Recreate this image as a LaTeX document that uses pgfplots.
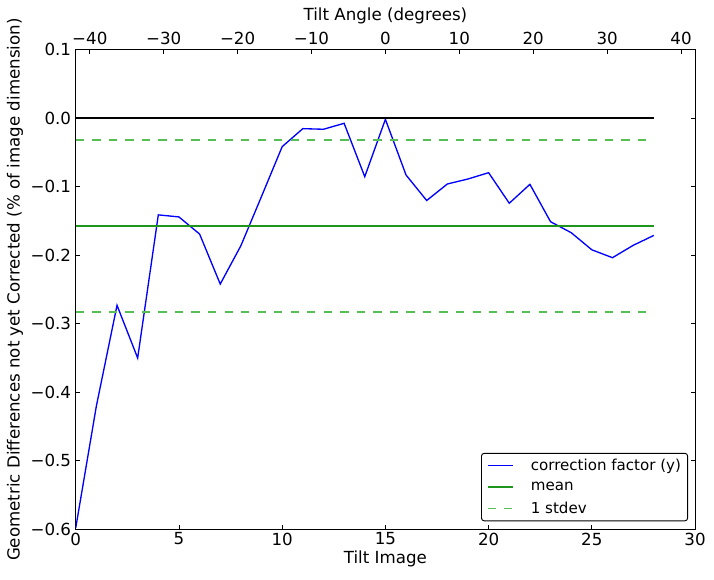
\documentclass[border=0pt]{standalone}
\usepackage{pgfplots}
\pgfplotsset{compat=1.18}
\usepackage{fontspec}
\setmainfont{DejaVu Sans}
\definecolor{mplblue}{rgb}{0,0,1}
\definecolor{meangreen}{RGB}{30,150,30}
\definecolor{sdgreen}{RGB}{85,190,85}
\pgfplotstableread{
x y
0 -0.598
1 -0.420
2 -0.273
3 -0.350
4 -0.141
5 -0.144
6 -0.169
7 -0.242
8 -0.186
9 -0.114
10 -0.0414
11 -0.0151
12 -0.016
13 -0.0073
14 -0.0852
15 -0.0015
16 -0.0828
17 -0.120
18 -0.0959
19 -0.0886
20 -0.0794
21 -0.124
22 -0.0964
23 -0.151
24 -0.167
25 -0.192
26 -0.2035
27 -0.1855
28 -0.171
}\corrdata
\newcommand{\tfont}{\fontsize{12.5}{14.5}\selectfont}
\newcommand{\lfont}{\fontsize{11.3}{13.3}\selectfont}
\begin{document}
\begin{tikzpicture}
\begin{axis}[name=main, scale only axis, width=464.5pt, height=359.6pt,
  xmin=0, xmax=30, ymin=-0.6, ymax=0.1,
  xtick={0,5,10,15,20,25,30},
  ytick={-0.6,-0.5,-0.4,-0.3,-0.2,-0.1,0,0.1},
  yticklabels={−0.6,−0.5,−0.4,−0.3,−0.2,−0.1,0.0,0.1},
  xtick pos=bottom, ytick pos=both, tick align=inside,
  major tick length=3pt,
  axis line style={line width=0.8pt},
  every tick/.style={black, line width=0.6pt},
  tick label style={font=\tfont},
  xticklabel style={yshift=1pt},
  /pgf/number format/assume math mode=true,
  xlabel={Tilt Image},
  ylabel={Geometric Differences not yet Corrected (\% of image dimension)},
  label style={font=\tfont},
  xlabel style={at={(axis description cs:0.5,-0.0626)}, anchor=center},
  ylabel style={at={(axis description cs:-0.098,0.5)}, anchor=center},
  legend cell align=left,
  legend style={at={(1,0)}, anchor=south east, xshift=-5.25pt, yshift=6pt,
    draw=black, line width=0.7pt, rounded corners=2pt, font=\lfont,
    row sep=3.3pt, inner xsep=3pt, inner ysep=2pt},
  legend image code/.code={\draw[#1] (0pt,0pt) -- (18.75pt,0pt); \path[draw=none,fill=none] (-1.5pt,0pt) -- (30.5pt,0pt);},
]
\addplot[mplblue, line width=1pt] table[x=x,y=y] {\corrdata};
\addlegendentry{correction factor (y)}
\addplot[meangreen, line width=1pt] coordinates {(0,-0.157) (28,-0.157)};
\addlegendentry{mean}
\addplot[sdgreen, line width=1pt, dash pattern=on 6.2pt off 6.2pt] coordinates {(0,-0.0315) (28,-0.0315)};
\addlegendentry{1 stdev}
\addplot[sdgreen, line width=1pt, dash pattern=on 6.2pt off 6.2pt, forget plot] coordinates {(0,-0.2828) (28,-0.2828)};
\addplot[black, line width=1.4pt, forget plot] coordinates {(0,0) (28,0)};
\end{axis}
\begin{axis}[scale only axis, width=464.5pt, height=359.6pt,
  at={(main.south west)}, anchor=south west,
  xmin=-41.9, xmax=41.9, ymin=0, ymax=1,
  axis x line*=top, hide y axis,
  xtick={-40,-30,-20,-10,0,10,20,30,40},
  xticklabels={−40,−30,−20,−10,0,10,20,30,40},
  tick align=inside, major tick length=3pt,
  every tick/.style={black, line width=0.6pt},
  axis line style={line width=0.8pt, -},
  tick label style={font=\tfont},
  xlabel={Tilt Angle (degrees)},
  label style={font=\tfont},
  xlabel style={at={(axis description cs:0.5,1.071)}, anchor=center},
]
\end{axis}
\path ([xshift=-56.8pt,yshift=-37.3pt]main.south west) rectangle ++(535.5pt,434.25pt);
\end{tikzpicture}
\end{document}
